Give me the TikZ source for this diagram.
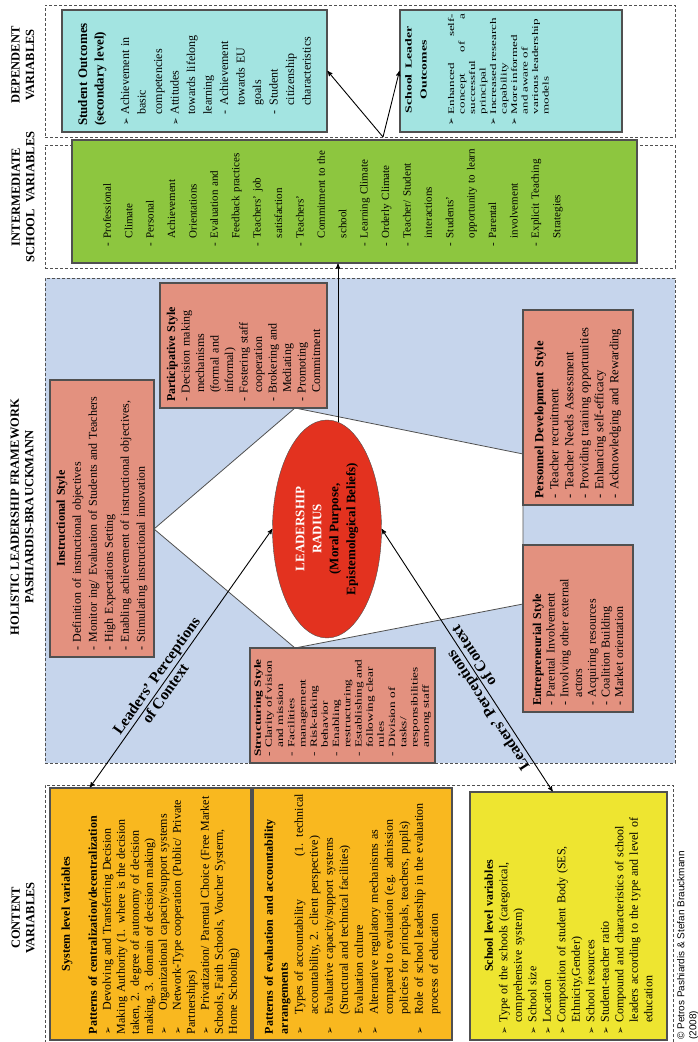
\documentclass[tikz,border=0pt]{standalone}
\usepackage{fontspec}
\setmainfont{Liberation Serif}
\newfontfamily\wideserif{Liberation Serif}[FakeStretch=1.4]
\newfontfamily\widerserif{Liberation Serif}[FakeStretch=1.5]
\newfontfamily\dingfont{DejaVu Sans}
\newfontfamily\notefont{Liberation Sans}
\usetikzlibrary{arrows,calc,shapes.geometric}

\definecolor{panelblue}{HTML}{C6D5EC}
\definecolor{stylered}{HTML}{E3917F}
\definecolor{radiusred}{HTML}{E3321F}
\definecolor{schoolgreen}{HTML}{8DC63F}
\definecolor{outcomecyan}{HTML}{A3E4E1}
\definecolor{systemorange}{HTML}{F9B81F}
\definecolor{levelyellow}{HTML}{EEE530}
\definecolor{edgegray}{HTML}{505050}

\hyphenpenalty=10000
\exhyphenpenalty=10000

\newcommand{\bul}{{\dingfont\fontsize{9}{9}\selectfont ➢}\hspace{4pt}}
\newcommand{\bulind}{\leavevmode\phantom{\bul}}
\newcommand{\dsh}{-\hspace{5pt}}
\newcommand{\ind}{\leavevmode\phantom{\dsh}}

\begin{document}
\begin{tikzpicture}[rotate=90, transform shape, x=1pt, y=1pt,
    >=stealth',
    panel/.style = {draw=edgegray, line width=0.8pt, dash pattern=on 3pt off 2pt},
    tbox/.style = {draw=edgegray, line width=1.1pt, inner xsep=6pt, inner ysep=0pt, align=left},
    stylebox/.style = {tbox, fill=stylered},
    facet/.style = {draw=edgegray, fill=white, line width=0.8pt},
    head/.style = {font=\bfseries\fontsize{12.5}{14.5}\selectfont, align=center},
    link/.style = {draw=black, line width=0.9pt},
    percept/.style = {font=\bfseries\fontsize{15.5}{15.5}\selectfont, inner sep=1.5pt}
  ]
  \useasboundingbox (0,0) rectangle (1042,-698);

  % column frames
  \draw[panel] (-2,-45) rectangle (257,-673);
  \draw[panel, fill=panelblue] (279,-45) rectangle (764,-675);
  \draw[panel] (774,-45) rectangle (897,-675);
  \draw[panel] (905,-45) rectangle (1037,-675);

  \node[head] (hcon) at (124,-23) {CONTENT\\VARIABLES};
  \node[head] (hhol) at (525,-22) {HOLISTIC LEADERSHIP FRAMEWORK\\PASHIARDIS-BRAUCKMANN};
  \node[head] (hint) at (845,-23) {INTERMEDIATE\\SCHOOL\ \ VARIABLES};
  \node[head] (hdep) at (977,-23) {DEPENDENT\\VARIABLES};

  % context variables
  \node[tbox, fill=systemorange, minimum height=201pt, text width=240pt,
    font=\fontsize{12}{14}\selectfont] (sysvar) at (128,-150.5) {%
    {\centering\bfseries System level variables\par}\vspace{13pt}
    \textbf{Patterns of centralization/decentralization}\\
    \bul\hspace{12pt}Devolving and Transferring Decision\\
    Making Authority (1. where is the decision\\
    taken, 2. degree of autonomy of decision\\
    making, 3. domain of decision making)\\
    \bul\hspace{12pt}Organizational capacity/support systems\\
    \bul\hspace{12pt}Network-Type cooperation (Public/ Private\\
    Partnerships)\\
    \bul\hspace{12pt}Privatization/ Parental Choice (Free Market\\
    Schools, Faith Schools, Voucher Systerm,\\
    Home Schooling)};
  \node[tbox, fill=systemorange, minimum height=199pt, text width=240pt,
    font=\fontsize{12}{15}\selectfont] (evalvar) at (128,-352.5) {%
    \textbf{Patterns of evaluation and accountability}\\
    \textbf{arrangements}\\
    \bul\hspace{8pt}Types of accountability\hfill(1. technical\\
    \bulind\hspace{8pt}accountability, 2. client perspective)\\
    \bul\hspace{8pt}Evaluative capacity/support systems\\
    \bulind\hspace{8pt}(Structural and technical facilities)\\
    \bul\hspace{8pt}Evaluation culture\\
    \bul\hspace{8pt}Alternative regulatory mechanisms as\\
    \bulind\hspace{8pt}compared to evaluation (e.g. admission\\
    \bulind\hspace{8pt}policies for principals, teachers, pupils)\\
    \bul\hspace{8pt}Role of school leadership in the evaluation\\
    \bulind\hspace{8pt}process of education};
  \node[tbox, fill=levelyellow, minimum height=197pt, text width=236pt,
    font=\fontsize{12}{14.5}\selectfont] (schvar) at (126,-568.5) {%
    {\centering\bfseries School level variables\par}
    \bul Type of the schools (categorical,\\
    \bulind comprehensive system)\\
    \bul School size\\
    \bul Location\\
    \bul Composition of student Body (SES,\\
    \bulind Ethnicity,Gender)\\
    \bul School resources\\
    \bul Student-teacher ratio\\
    \bul Compound and characteristics of school\\
    \bulind leaders according to the type and level of\\
    \bulind education};

  % the five styles round the radius
  \draw[facet] (513,-154) -- (634,-295) -- (588,-523) -- (438,-523) -- (394,-295) -- cycle;

  \node[stylebox, minimum height=104pt, text width=265pt,
    font=\fontsize{12}{16}\selectfont] (instr) at (523.5,-102) {%
    {\centering\bfseries Instructional Style\par}
    \dsh Definition of instructional objectives\\
    \dsh Monitor ing/ Evaluation of Students and Teachers\\
    \dsh High Expectations Setting\\
    \dsh Enabling achievement of instructional objectives,\\
    \dsh Stimulating instructional innovation};
  \node[stylebox, minimum height=167pt, text width=113pt,
    font=\fontsize{12}{14.5}\selectfont] (partic) at (696.5,-243.5) {%
    \textbf{Participative Style}\\
    \dsh Decision making\\
    \ind mechanisms\\
    \ind (formal and\\
    \ind informal)\\
    \dsh Fostering staff\\
    \ind cooperation\\
    \dsh Brokering and\\
    \ind Mediating\\
    \dsh Promoting\\
    \ind Commitment};
  \node[stylebox, minimum height=110pt, text width=183pt,
    font=\fontsize{12.5}{15}\selectfont] (pers) at (634.5,-578) {%
    \textbf{Personnel Development Style}\\
    \dsh Teacher recruitment\\
    \dsh Teacher Needs Assessment\\
    \dsh Providing training opportunities\\
    \dsh Enhancing self-efficacy\\
    \dsh Acknowledging and Rewarding};
  \node[stylebox, minimum height=110pt, text width=155pt,
    font=\fontsize{12}{13.7}\selectfont] (entre) at (413.5,-578) {%
    \textbf{Entrepreneurial Style}\\
    \dsh Parental Involvement\\
    \dsh Involving other external\\
    \ind actors\\
    \dsh Acquiring resources\\
    \dsh Coalition Building\\
    \dsh Market orientation};
  \node[stylebox, minimum height=185pt, text width=103pt,
    font=\wideserif\fontsize{9.5}{11.2}\selectfont] (struc) at (336.5,-342.5) {%
    \textbf{Structuring Style}\\
    \dsh Clarity of vision\\
    \ind and mission\\
    \dsh Facilities\\
    \ind management\\
    \dsh Risk-taking\\
    \ind behavior\\
    \dsh Enabling\\
    \ind restructuring\\
    \dsh Establishing and\\
    \ind following clear\\
    \ind rules\\
    \dsh Division of\\
    \ind tasks/\\
    \ind responsibilities\\
    \ind among staff};

  \node[ellipse, draw=edgegray, fill=radiusred, minimum width=218pt, minimum height=109pt,
    inner sep=0pt, align=center, font=\bfseries\fontsize{13}{17}\selectfont] (radius) at (513,-327)
    {\textcolor{white}{LEADERSHIP}\\\textcolor{white}{RADIUS}\\(Moral Purpose,\\Epistemological Beliefs)};

  % intermediate school variables
  \node[tbox, fill=schoolgreen, minimum width=123pt, minimum height=565pt] (sch) at (840.5,-354.5) {};
  \node[anchor=north west, inner sep=0pt, text width=100pt, align=left,
    font=\fontsize{11}{21.4}\selectfont] (schlist) at (795,-103) {%
    \dsh Professional\\
    \ind Climate\\
    \dsh Personal\\
    \ind Achievement\\
    \ind Orientations\\
    \dsh Evaluation and\\
    \ind Feedback practices\\
    \dsh Teachers’ job\\
    \ind satisfaction\\
    \dsh Teachers’\\
    \ind Commitment to the\\
    \ind school\\
    \dsh Learning Climate\\
    \dsh Orderly Climate\\
    \dsh Teacher/ Student\\
    \ind interactions\\
    \dsh Students’\\
    \ind opportunity to learn\\
    \dsh Parental\\
    \ind involvement\\
    \dsh Explicit Teaching\\
    \ind Strategies};

  % dependent variables
  \node[tbox, fill=outcomecyan, minimum height=265pt, text width=110pt,
    font=\fontsize{12}{16.5}\selectfont] (stud) at (971,-194.5) {%
    {\bfseries\fontsize{13}{16.5}\selectfont Student Outcomes}\\
    {\bfseries\fontsize{13}{16.5}\selectfont (secondary level)}\\[9pt]
    \bul Achievement in\\
    \bulind basic\\
    \bulind competencies\\
    \bul Attitudes\\
    \bulind towards lifelong\\
    \bulind learning\\
    \bulind\dsh Achievement\\
    \bulind\ind towards EU\\
    \bulind\ind goals\\
    \bulind\dsh Student\\
    \bulind\ind citizenship\\
    \bulind\ind characteristics};
  \node[tbox, fill=outcomecyan, minimum width=122pt, minimum height=222pt] (lead) at (971,-511) {};
  \node[anchor=north west, inner sep=0pt, text width=112pt, align=left,
    font=\widerserif\fontsize{8.7}{10.5}\selectfont] (leadlist) at (916,-405) {%
    {\centering\bfseries\fontsize{9.2}{15}\selectfont School\ \ Leader\\Outcomes\par}\vspace{17pt}
    \bul Enhanced\hfill self-\\
    \bulind concept\hfill of\hfill a\\
    \bulind successful\\
    \bulind principal\\
    \bul Increased research\\
    \bulind capability\\
    \bul More informed\\
    \bulind and aware of\\
    \bulind various leadership\\
    \bulind models};

  % connectors
  \coordinate (rise) at (620,-338);
  \coordinate (fork) at (905,-383);
  \coordinate (ctxa) at ($(sysvar.north east)!0.2!(sysvar.south east)$);
  \coordinate (ctxb) at ($(schvar.north east)!0.42!(schvar.south east)$);

  \draw[link,->] (rise) -- (rise -| sch.west);
  \draw[link,->] (fork) -- (stud.south);
  \draw[link,->] (fork) -- (lead.north);
  \draw[link,<->] (ctxa) -- (radius.north);
  \draw[link,<->] (ctxb) -- (radius.south);

  \node[percept, rotate=-35.2, anchor=south] (perca) at ($(ctxa)!0.41!(radius.north)$) {Leaders’ Perceptions};
  \node[percept, rotate=-35.2, anchor=north] (conta) at ($(ctxa)!0.38!(radius.north)$) {of Context};
  \node[percept, rotate=33.1, anchor=south] (percb) at ($(ctxb)!0.33!(radius.south)$) {Leaders’ Perceptions};
  \node[percept, rotate=33.1, anchor=north] (contb) at ($(ctxb)!0.5!(radius.south)$) {of Context};

  \node[anchor=north west, inner sep=0pt, align=left,
    font=\notefont\fontsize{10}{12}\selectfont] (credit) at (2,-677)
    {© Petros Pashiardis \& Stefan Brauckmann\\(2008)};
\end{tikzpicture}
\end{document}
